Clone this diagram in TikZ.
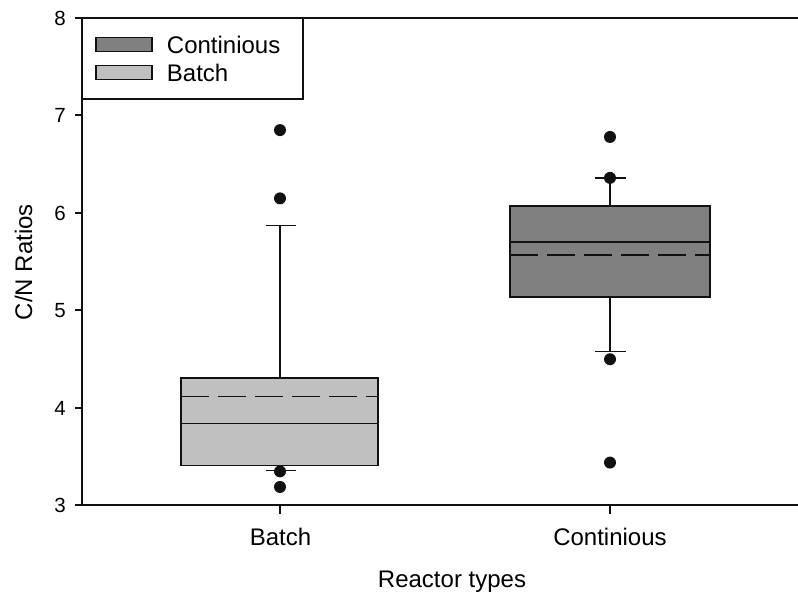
\documentclass[tikz,border=0pt]{standalone}
\usepackage{fontspec}
\setmainfont{Liberation Sans}
\usepackage{xcolor}
\definecolor{ink}{HTML}{111111}
\definecolor{contc}{HTML}{808080}
\definecolor{batchc}{HTML}{C0C0C0}
\usepackage{tikz}
\usetikzlibrary{positioning}

\begin{document}
\begin{tikzpicture}[x=1pt,y=97.5pt,every node/.style={font=\fontsize{24}{27}\selectfont,inner sep=0pt}]
\tikzstyle{box}=[draw=ink,line width=1.5pt]
\tikzstyle{whisker}=[ink,line width=1.5pt]
\tikzstyle{meanline}=[ink,line width=1.5pt,dash pattern=on 27.5pt off 9.5pt]
\tikzstyle{outlier}=[fill=ink]
\tikzstyle{axis}=[ink,line width=2pt]
\tikzstyle{ticklabel}=[font=\fontsize{20.5}{23}\selectfont,anchor=east]
\tikzstyle{swatch}=[draw=ink,line width=1.5pt,minimum width=56pt,minimum height=14.4pt]
\useasboundingbox (0,2.0923) rectangle (798,8.1846);
% axes and frame
\draw[axis] (82,8) -- (798,8);
\draw[axis] (82,8) -- (82,3) -- (798,3);
\foreach \v in {3,...,8}{
  \draw[axis] (75,\v) -- (82,\v);
  \node[ticklabel] (tick\v) at (66,\v) {\v};
}
\foreach \x in {280,610} \draw[axis] (\x,3) -- (\x,2.913);
\node[anchor=base] (lblbatch) at (280.5,2.585) {Batch};
\node[anchor=base] (lblcont) at (610,2.585) {Continious};
\node[anchor=base] (xtitle) at (452,2.154) {Reactor types};
\node[anchor=base,rotate=90] (ytitle) at (32,5.497) {C/N Ratios};
% batch reactor
\draw[whisker] (280,4.31) -- (280,5.87);
\draw[whisker] (266,5.87) -- (296,5.87);
\draw[whisker] (280,3.41) -- (280,3.36);
\draw[whisker] (266,3.36) -- (296,3.36);
\draw[box,fill=batchc] (181,3.41) rectangle (378,4.31);
\draw[whisker] (181,3.84) -- (378,3.84);
\draw[meanline] (181,4.12) -- (378,4.12);
\foreach \v in {6.85,6.15,3.35,3.19} \fill[outlier] (280,\v) circle[radius=6pt];
% continuous reactor
\draw[whisker] (610,6.07) -- (610,6.36);
\draw[whisker] (595,6.36) -- (626,6.36);
\draw[whisker] (610,5.14) -- (610,4.58);
\draw[whisker] (595,4.58) -- (626,4.58);
\draw[box,fill=contc] (510,5.14) rectangle (710,6.07);
\draw[whisker] (510,5.70) -- (710,5.70);
\draw[meanline] (510,5.57) -- (710,5.57);
\foreach \v in {6.78,6.36,4.50,3.44} \fill[outlier] (610,\v) circle[radius=6pt];
% legend
\draw[box,fill=white] (82,8) rectangle (303,7.169);
\node[swatch,fill=contc] (swcont) at (124,7.728) {};
\node[swatch,fill=batchc] (swbatch) at (124,7.441) {};
\node[right=14pt of swcont] (legcont) {Continious};
\node[right=14pt of swbatch] (legbatch) {Batch};
\end{tikzpicture}
\end{document}
